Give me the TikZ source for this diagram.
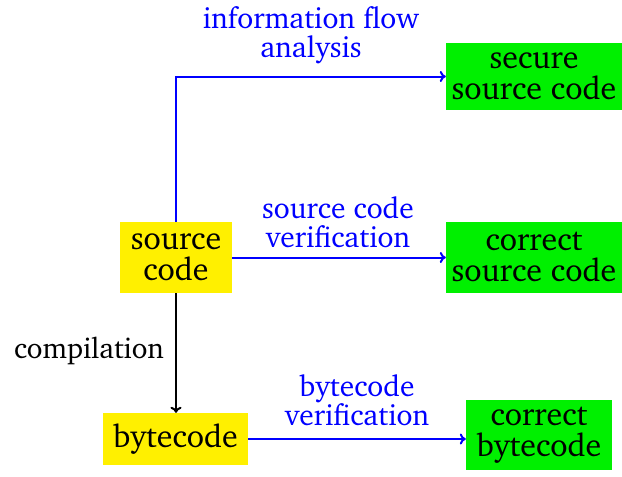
\documentclass[tikz,border=0pt]{standalone}
\usepackage[T1]{fontenc}
\usepackage{charter}
\usetikzlibrary{arrows.meta}
\definecolor{boxyellow}{RGB}{255,240,0}
\definecolor{boxgreen}{RGB}{0,240,0}
\tikzset{
  srcbox/.style={fill=boxyellow, inner sep=0pt, align=center, font=\fontsize{32}{31}\selectfont},
  resbox/.style={fill=boxgreen, inner sep=0pt, align=center, font=\fontsize{32}{31}\selectfont},
  flow/.style={blue, line width=2pt, -{To[length=6pt,width=11pt]}},
  compile/.style={black, line width=2pt, -{To[length=6pt,width=11pt]}},
  lbl/.style={blue, align=center, font=\fontsize{29.5}{29}\selectfont},
}
\begin{document}
\begin{tikzpicture}[x=1pt, y=-1pt]
  \useasboundingbox (0,0) rectangle (622,477);
  % input boxes
  \node[srcbox, minimum width=112pt, minimum height=71pt] (src) at (176,257.5) {source\\code};
  \node[srcbox, minimum width=145pt, minimum height=52pt] (bc) at (175.5,439) {bytecode};
  % result boxes
  \node[resbox, minimum width=176pt, minimum height=67pt] (sec) at (534,76.5) {secure\\source code};
  \node[resbox, minimum width=176pt, minimum height=71pt] (csc) at (534,257.5) {correct\\source code};
  \node[resbox, minimum width=146pt, minimum height=70pt] (cbc) at (539,435) {correct\\bytecode};
  % connectors
  \draw[flow] (src.north) |- (sec.west);
  \draw[flow] (src.east) -- (csc.west |- src.east);
  \draw[flow] (bc.east) -- (cbc.west |- bc.east);
  \draw[compile] (src.south) -- (bc.north -| src.south);
  % labels
  \node[lbl] (l1) at (311,35) {information flow\\analysis};
  \node[lbl] (l2) at (338,222) {source code\\verification};
  \node[lbl] (l3) at (357,400) {bytecode\\verification};
  \node[font=\fontsize{29}{29}\selectfont] (l4) at (89,351) {compilation};
\end{tikzpicture}
\end{document}
